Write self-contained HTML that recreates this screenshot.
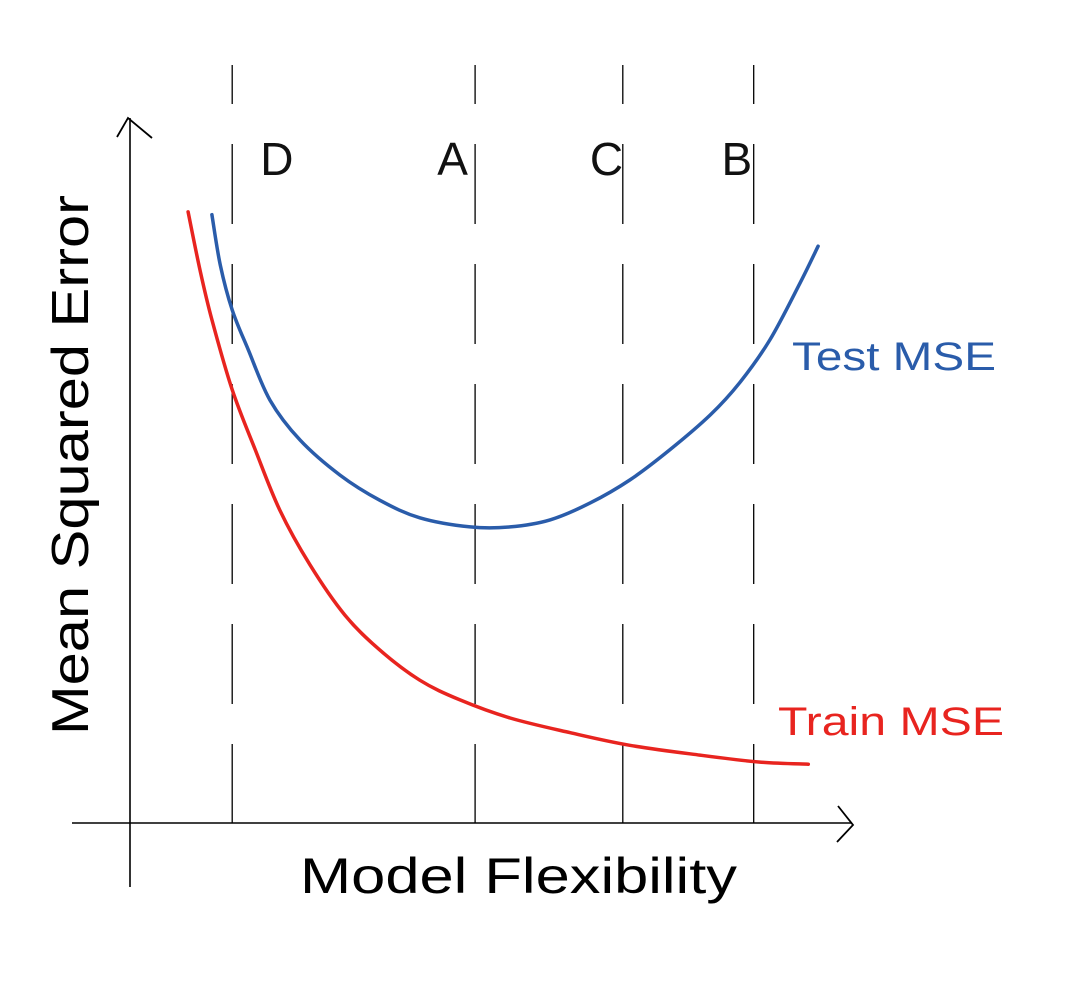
<!DOCTYPE html>
<html><head><meta charset="utf-8"><style>
html,body{margin:0;padding:0;background:#fff;}
svg{display:block;}
text{font-family:"Liberation Sans",sans-serif;}
</style></head><body>
<svg id="chart" width="1082" height="1000" viewBox="0 0 1082 1000">
<g id="guides"></g>
<g id="axes">
<line x1="72" y1="823" x2="852" y2="823" stroke="#000" stroke-width="1.6"/>
<polyline points="838,806 853,825 837,842" fill="none" stroke="#000" stroke-width="1.8"/>
<line x1="130" y1="887" x2="130" y2="118" stroke="#000" stroke-width="1.6"/>
<polyline points="117,137 128,118 152,138" fill="none" stroke="#000" stroke-width="1.8"/>
</g>
<g id="series"></g>
<text x="300" y="893" font-size="50" textLength="437" lengthAdjust="spacingAndGlyphs" fill="#000">Model Flexibility</text>
<text transform="translate(88,735) rotate(-90)" font-size="52" textLength="540" lengthAdjust="spacingAndGlyphs" fill="#000">Mean Squared Error</text>
<text x="792" y="370" font-size="40" textLength="204" lengthAdjust="spacingAndGlyphs" fill="#2a5caa">Test MSE</text>
<text x="778" y="735" font-size="40" textLength="226" lengthAdjust="spacingAndGlyphs" fill="#e8241f">Train MSE</text>
</svg>
<script>
const regionLabels = ["D","A","C","B"];
const regionBounds = [14.6, 49.3, 70.4, 89.1];
const labelOffsets = [4, -5.4, -4.7, -4.6];
const trainX = [8.3,10,11.7,14.6,17.9,21.4,25.7,30.7,35.7,41.4,47.1,54.3,62.9,71.4,81.4,90,96.9];
const trainY = [87.3,79,71.9,61.9,53.3,44.7,36.9,29.7,24.7,20.4,17.6,15,12.9,11.1,9.7,8.7,8.4];
const testX = [11.7,12.9,14.6,16.9,20,24.3,30,35.7,41.4,48.6,54.3,60,65.7,71.4,77.1,82.9,87.1,91.4,95.7,98.3];
const testY = [86.9,79.7,73.3,67.6,60.4,54.7,49.7,46.1,43.6,42.3,42.3,43.3,45.7,49,53.3,58.3,62.9,69,77.1,82.4];

const NS="http://www.w3.org/2000/svg";
function xs(v){return 130+v*7;}
function ys(v){return 823-v*7;}
const guides=document.getElementById('guides');
regionBounds.forEach((b,i)=>{
  const l=document.createElementNS(NS,'line');
  l.setAttribute('x1',xs(b));l.setAttribute('x2',xs(b));
  l.setAttribute('y1',65);l.setAttribute('y2',823);
  l.setAttribute('stroke','#000');l.setAttribute('stroke-width','1.3');
  l.setAttribute('stroke-dasharray','80 40');l.setAttribute('stroke-dashoffset','41');
  
  
  guides.appendChild(l);
  const t=document.createElementNS(NS,'text');
  t.setAttribute('x',xs(b+labelOffsets[i]));t.setAttribute('y',175);
  t.setAttribute('font-size','46');t.setAttribute('fill','#111');
  t.textContent=regionLabels[i];
  
  
  guides.appendChild(t);
});
function smooth(X,Y){
  const p=X.map((x,i)=>[xs(x),ys(Y[i])]);
  let d='M'+p[0][0]+','+p[0][1];
  for(let i=0;i<p.length-1;i++){
    const p0=p[i-1]||p[i],p1=p[i],p2=p[i+1],p3=p[i+2]||p2;
    const c1=[p1[0]+(p2[0]-p0[0])/6,p1[1]+(p2[1]-p0[1])/6];
    const c2=[p2[0]-(p3[0]-p1[0])/6,p2[1]-(p3[1]-p1[1])/6];
    d+=' C'+c1+' '+c2+' '+p2;
  }
  return d;
}
const series=document.getElementById('series');
const tr=document.createElementNS(NS,'path');
tr.setAttribute('d',smooth(trainX,trainY));
tr.setAttribute('fill','none');tr.setAttribute('stroke','#e8241f');tr.setAttribute('stroke-width','3.5');tr.setAttribute('stroke-linecap','round');


series.appendChild(tr);
const te=document.createElementNS(NS,'path');
te.setAttribute('d',smooth(testX,testY));
te.setAttribute('fill','none');te.setAttribute('stroke','#2a5caa');te.setAttribute('stroke-width','3.5');te.setAttribute('stroke-linecap','round');


series.appendChild(te);
</script>
</body></html>
